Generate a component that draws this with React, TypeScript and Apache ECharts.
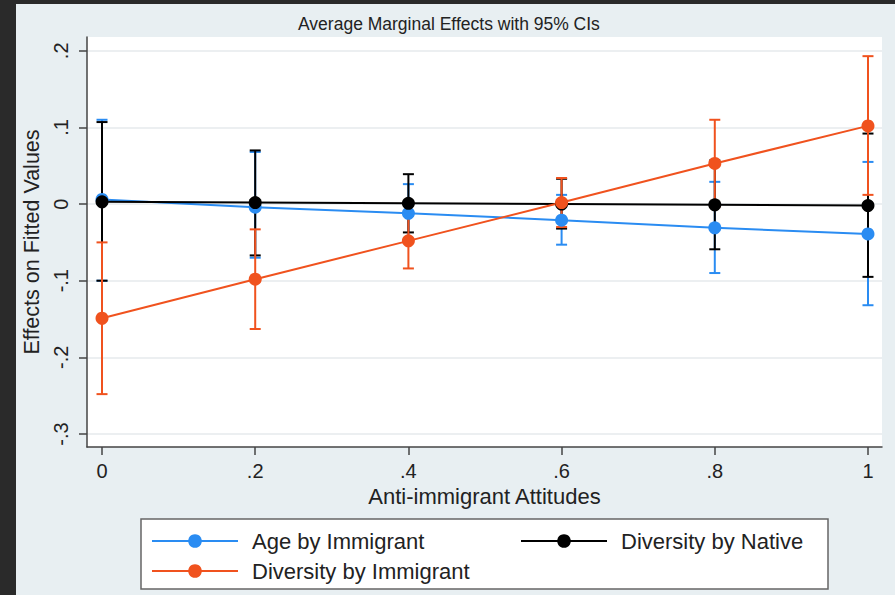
import React, { useEffect, useRef } from "react";
import * as echarts from "echarts";

const xValues = [0, 0.2, 0.4, 0.6, 0.8, 1];

const ageImm = [0.006, -0.004, -0.012, -0.021, -0.031, -0.039];
const ageImmLow = [-0.1, -0.07, -0.05, -0.053, -0.09, -0.132];
const ageImmHigh = [0.11, 0.068, 0.026, 0.012, 0.029, 0.055];

const divNat = [0.003, 0.002, 0.001, 0.0, -0.001, -0.002];
const divNatLow = [-0.1, -0.067, -0.037, -0.032, -0.059, -0.095];
const divNatHigh = [0.107, 0.07, 0.039, 0.033, 0.057, 0.092];

const divImm = [-0.149, -0.098, -0.048, 0.002, 0.053, 0.102];
const divImmLow = [-0.248, -0.163, -0.084, -0.03, -0.004, 0.012];
const divImmHigh = [-0.05, -0.033, -0.012, 0.034, 0.11, 0.193];

const xTicks = [0, 0.2, 0.4, 0.6, 0.8, 1];
const xTickLabels = ["0", ".2", ".4", ".6", ".8", "1"];
const yTicks = [-0.3, -0.2, -0.1, 0, 0.1, 0.2];
const yTickLabels = ["-.3", "-.2", "-.1", "0", ".1", ".2"];

const seriesNames = ["Age by Immigrant", "Diversity by Native", "Diversity by Immigrant"];
const colors = ["#2a8cf2", "#000000", "#f0521e"];

const FONT = "'Liberation Sans', Arial, Helvetica, sans-serif";

function lookup(ticks: number[], labels: string[], v: number) {
  for (let i = 0; i < ticks.length; i++) {
    if (Math.abs(ticks[i] - v) < 1e-9) return labels[i];
  }
  return "";
}

function errorSeries(name: string, color: string, lo: number[], hi: number[], z: number) {
  return {
    type: "custom",
    name,
    z,
    silent: true,
    data: xValues.map((x, i) => [x, lo[i], hi[i]]),
    encode: { x: 0, y: [1, 2] },
    renderItem: (params: any, api: any) => {
      const x = api.value(0);
      const pLo = api.coord([x, api.value(1)]);
      const pHi = api.coord([x, api.value(2)]);
      const hw = 5.5;
      const style = { stroke: color, lineWidth: 2 };
      return {
        type: "group",
        children: [
          { type: "line", shape: { x1: pLo[0], y1: pLo[1], x2: pHi[0], y2: pHi[1] }, style },
          { type: "line", shape: { x1: pLo[0] - hw, y1: pLo[1], x2: pLo[0] + hw, y2: pLo[1] }, style },
          { type: "line", shape: { x1: pHi[0] - hw, y1: pHi[1], x2: pHi[0] + hw, y2: pHi[1] }, style },
        ],
      };
    },
  };
}

function lineSeries(name: string, color: string, vals: number[], z: number) {
  return {
    type: "line",
    name,
    z,
    data: xValues.map((x, i) => [x, vals[i]]),
    symbol: "circle",
    symbolSize: 13,
    showSymbol: true,
    lineStyle: { color, width: 2 },
    itemStyle: { color },
  };
}

export default function App() {
  const ref = useRef<HTMLDivElement>(null);
  useEffect(() => {
    if (!ref.current) return;
    const chart = echarts.init(ref.current, undefined, { renderer: "svg" });
    const legendCommon = {
      orient: "vertical",
      padding: 0,
      itemWidth: 86,
      itemHeight: 17,
      itemGap: 8,
      selectedMode: false,
      textStyle: { fontSize: 22, color: "#222", fontFamily: FONT, padding: [0, 0, 0, 9] },
    };
    chart.setOption({
      animation: false,
      backgroundColor: "#e8eff2",
      textStyle: { fontFamily: FONT },
      title: {
        text: "Average Marginal Effects with 95% CIs",
        left: 298,
        top: 15,
        padding: 0,
        textStyle: { fontSize: 17.5, fontWeight: "normal", color: "#222", fontFamily: FONT },
      },
      graphic: [
        { type: "rect", shape: { x: 0, y: 0, width: 16, height: 595 }, style: { fill: "#2a2a2a" } },
        { type: "rect", shape: { x: 0, y: 0, width: 895, height: 4 }, style: { fill: "#2a2a2a" } },
        {
          type: "rect",
          shape: { x: 141, y: 519, width: 687, height: 70 },
          style: { fill: "#ffffff", stroke: "#666666", lineWidth: 1.5 },
        },
      ],
      legend: [
        { ...legendCommon, data: [seriesNames[0], seriesNames[2]], left: 151, top: 530 },
        { ...legendCommon, data: [seriesNames[1]], left: 520, top: 530 },
      ],
      grid: {
        left: 87,
        top: 37,
        width: 795,
        height: 410,
        show: true,
        backgroundColor: "#ffffff",
        borderWidth: 0,
      },
      xAxis: {
        type: "value",
        min: -0.0196,
        max: 1.0183,
        name: "Anti-immigrant Attitudes",
        nameLocation: "middle",
        nameGap: 37,
        nameTextStyle: { fontSize: 22, color: "#222", fontFamily: FONT },
        axisLine: { show: true, onZero: false, lineStyle: { color: "#444", width: 1.5 } },
        axisTick: { show: true, length: 8, customValues: xTicks, lineStyle: { color: "#444", width: 1.5 } },
        axisLabel: {
          customValues: xTicks,
          margin: 14,
          fontSize: 20,
          color: "#222",
          fontFamily: FONT,
          formatter: (v: number) => lookup(xTicks, xTickLabels, v),
        },
        splitLine: { show: false },
      },
      yAxis: {
        type: "value",
        min: -0.317,
        max: 0.218,
        name: "Effects on Fitted Values",
        nameLocation: "middle",
        nameGap: 43,
        nameTextStyle: { fontSize: 21.5, color: "#222", fontFamily: FONT },
        axisLine: { show: true, onZero: false, lineStyle: { color: "#444", width: 1.5 } },
        axisTick: { show: true, length: 8, customValues: yTicks, lineStyle: { color: "#444", width: 1.5 } },
        axisLabel: {
          customValues: yTicks,
          rotate: 90,
          margin: 16,
          fontSize: 20,
          color: "#222",
          fontFamily: FONT,
          formatter: (v: number) => lookup(yTicks, yTickLabels, v),
        },
        splitLine: { show: true, lineStyle: { color: "#e6eaed", width: 1.5 } },
      },
      series: [
        errorSeries("ci0", colors[0], ageImmLow, ageImmHigh, 2),
        errorSeries("ci1", colors[1], divNatLow, divNatHigh, 2),
        errorSeries("ci2", colors[2], divImmLow, divImmHigh, 2),
        lineSeries(seriesNames[0], colors[0], ageImm, 3),
        lineSeries(seriesNames[1], colors[1], divNat, 3),
        lineSeries(seriesNames[2], colors[2], divImm, 3),
      ],
    });
    return () => chart.dispose();
  }, []);
  return (
    <div
      ref={ref}
      style={{ position: "fixed", left: 0, top: 0, width: 895, height: 595 }}
    />
  );
}
